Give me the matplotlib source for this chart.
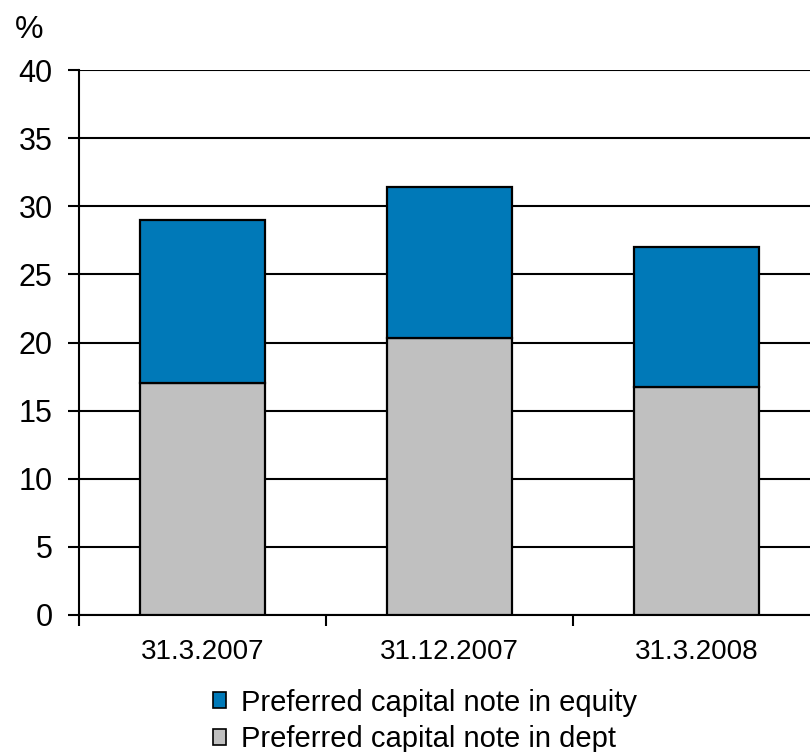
import matplotlib
matplotlib.use("Agg")
import matplotlib.pyplot as plt
from matplotlib.patches import Patch
import numpy as np

plt.rcParams['font.family'] = ['Liberation Sans', 'DejaVu Sans']

categories = ["31.3.2007", "31.12.2007", "31.3.2008"]
dept = [17.0, 20.3, 16.7]
equity = [12.0, 11.1, 10.3]
yticks = [0, 5, 10, 15, 20, 25, 30, 35, 40]

blue = "#0079B8"
gray = "#C0C0C0"

fig = plt.figure(figsize=(8.1, 7.52), dpi=100)
ax = fig.add_axes([79/810, 1-615/752, 741/810, (615-70)/752])

x = np.arange(len(categories))
ax.bar(x, dept, width=0.505, color=gray, edgecolor="black", linewidth=1.6, zorder=3)
ax.bar(x, equity, bottom=dept, width=0.505, color=blue, edgecolor="black", linewidth=1.6, zorder=3)

ax.set_xlim(-0.5, 2.5)
ax.set_ylim(0, 40)
ax.set_yticks(yticks)
ax.set_yticklabels([str(v) for v in yticks], fontsize=22)
ax.yaxis.grid(True, color="black", linewidth=1.5, zorder=0)
ax.set_axisbelow(True)

ax.set_xticks([-0.5, 0.5, 1.5, 2.5])
ax.set_xticklabels([])
ax.set_xticks(x, minor=True)
ax.set_xticklabels(categories, minor=True, fontsize=20)
ax.tick_params(axis='x', which='minor', length=0, pad=17)
ax.tick_params(axis='x', which='major', length=8, width=1.5, direction='out')
ax.tick_params(axis='y', length=8, width=1.5, direction='out', pad=11)

for s in ['top', 'right']:
    ax.spines[s].set_visible(False)
for s in ['left', 'bottom']:
    ax.spines[s].set_linewidth(1.5)

fig.text(15/810, 1-30/752, "%", fontsize=23, va='center', ha='left')

handles = [Patch(facecolor=blue, edgecolor="black", linewidth=1.2, label="Preferred capital note in equity"),
           Patch(facecolor=gray, edgecolor="black", linewidth=1.2, label="Preferred capital note in dept")]
fig.legend(handles=handles, loc='center left', bbox_to_anchor=(187/810, 1-721/752),
           frameon=False, fontsize=21, handlelength=0.45, handleheight=0.45,
           handletextpad=0.5, labelspacing=0.3)

fig.savefig("out.png", dpi=100)
